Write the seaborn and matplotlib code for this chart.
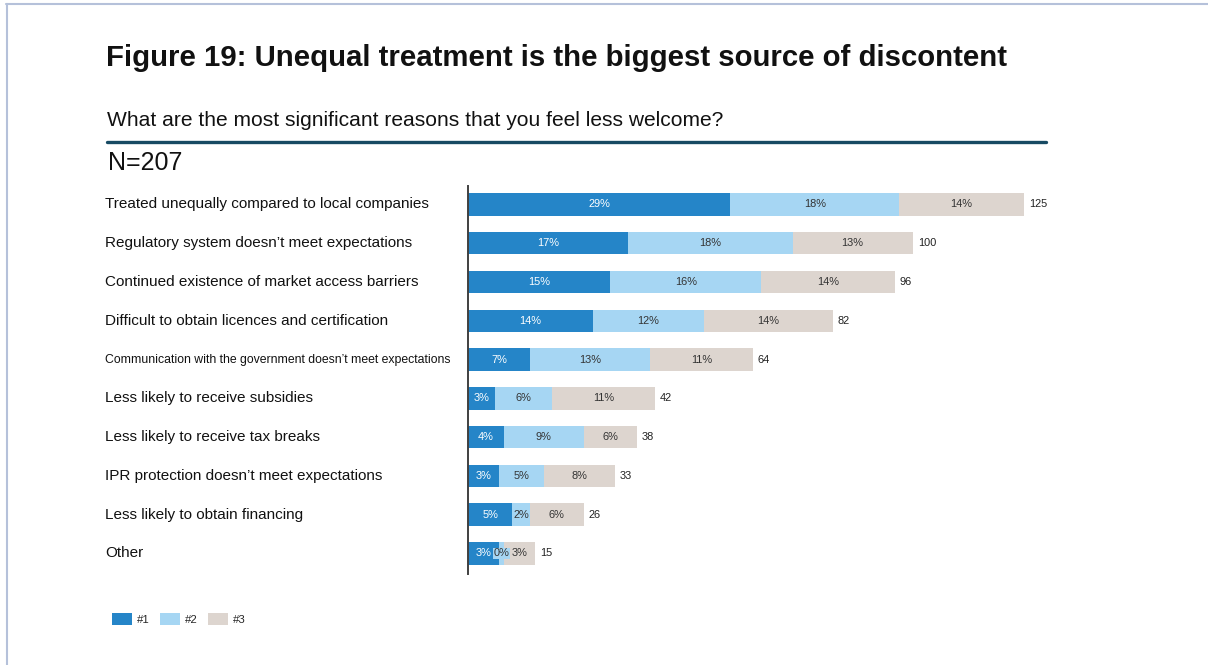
import matplotlib
matplotlib.use("Agg")
import matplotlib.pyplot as plt
import pandas as pd
import seaborn as sns
from matplotlib.patches import Patch
from matplotlib.lines import Line2D

sns.set_theme(style="white")
plt.rcParams['font.family'] = ['Liberation Sans', 'DejaVu Sans']

# Survey data: number of respondents ranking each reason #1, #2 and #3
N = 207
categories = [
    "Treated unequally compared to local companies",
    "Regulatory system doesn\u2019t meet expectations",
    "Continued existence of market access barriers",
    "Difficult to obtain licences and certification",
    "Communication with the government doesn\u2019t meet expectations",
    "Less likely to receive subsidies",
    "Less likely to receive tax breaks",
    "IPR protection doesn\u2019t meet expectations",
    "Less likely to obtain financing",
    "Other",
]
rank1 = [59, 36, 32, 28, 14, 6, 8, 7, 10, 7]
rank2 = [38, 37, 34, 25, 27, 13, 18, 10, 4, 1]
rank3 = [28, 27, 30, 29, 23, 23, 12, 16, 12, 7]
rank_names = ["#1", "#2", "#3"]
rank_colors = ["#2585C8", "#A6D6F3", "#DDD5CF"]
text_colors = ["white", "#333333", "#333333"]

df = pd.DataFrame({"category": categories, "r1": rank1, "r2": rank2, "r3": rank3})
df["upto2"] = df["r1"] + df["r2"]
df["total"] = df["upto2"] + df["r3"]

W, H = 1208, 665
fig = plt.figure(figsize=(W / 100, H / 100), dpi=100)
fig.patch.set_facecolor("white")

# axes: left edge at the vertical baseline, rows spaced evenly
ax_left, ax_right, ax_top, ax_bottom = 468, 1135, 186, 574
ax = fig.add_axes([ax_left / W, 1 - ax_bottom / H, (ax_right - ax_left) / W, (ax_bottom - ax_top) / H])
XMAX = 150.0

# stacked bars drawn as overlapping cumulative sums
for col, color in [("total", rank_colors[2]), ("upto2", rank_colors[1]), ("r1", rank_colors[0])]:
    sns.barplot(data=df, x=col, y="category", order=categories, color=color,
                saturation=1, width=0.58, errorbar=None, linewidth=0, ax=ax)

ax.set_xlim(0, XMAX)
ax.set_ylim(9.53, -0.475)
ax.set_xticks([])
ax.set_yticks([])
ax.set_xlabel("")
ax.set_ylabel("")
for side in ["top", "right", "bottom"]:
    ax.spines[side].set_visible(False)
ax.spines["left"].set_color("#404040")
ax.spines["left"].set_linewidth(1.4)
ax.patch.set_alpha(0)

px_per_unit = (ax_right - ax_left) / XMAX
label_x = (105 - ax_left) / (ax_right - ax_left)
ytrans = ax.get_yaxis_transform()

for i, cat in enumerate(categories):
    size = 8.85 if len(cat) > 50 else 11.0
    ax.text(label_x, i, cat, transform=ytrans, ha="left", va="center",
            fontsize=size, color="#111111")
    vals = [rank1[i], rank2[i], rank3[i]]
    left = 0
    for k, v in enumerate(vals):
        pct = int(100 * v / N + 0.5)
        kw = {}
        if v * px_per_unit < 16:
            kw["bbox"] = dict(boxstyle="square,pad=0.08", fc=rank_colors[k], ec="none")
        ax.text(left + v / 2, i, f"{pct}%", ha="center", va="center",
                fontsize=7.9, color=text_colors[k], **kw)
        left += v
    ax.text(left + 5 / px_per_unit, i, f"{left}", ha="left", va="center",
            fontsize=7.9, color="#222222")

# titles
fig.text(106 / W, 1 - 58 / H, "Figure 19: Unequal treatment is the biggest source of discontent",
         ha="left", va="center", fontsize=21.2, fontweight="bold", color="#111111")
fig.text(107 / W, 1 - 120.5 / H, "What are the most significant reasons that you feel less welcome?",
         ha="left", va="center", fontsize=15.1, color="#111111")
fig.add_artist(Line2D([107 / W, 1046 / W], [1 - 142 / H, 1 - 142 / H],
                      color="#174A63", linewidth=2.4, transform=fig.transFigure))
fig.text(108 / W, 1 - 163.5 / H, "N=207", ha="left", va="center", fontsize=18, color="#111111")

# legend
handles = [Patch(facecolor=c, edgecolor="none", label=n) for c, n in zip(rank_colors, rank_names)]
fig.legend(handles=handles, loc="center left", bbox_to_anchor=(103 / W, 1 - 619 / H),
           ncol=3, frameon=False, fontsize=8.2, handlelength=1.75, handleheight=1.3,
           handletextpad=0.4, columnspacing=0.95, borderpad=0.3)

# page border
border = "#B5C1DA"
fig.add_artist(Line2D([6 / W, 1], [1 - 4 / H, 1 - 4 / H], color=border, linewidth=1.5,
                      transform=fig.transFigure))
fig.add_artist(Line2D([7 / W, 7 / W], [0, 1 - 4 / H], color=border, linewidth=1.5,
                      transform=fig.transFigure))

fig.savefig("out.png", dpi=100, facecolor="white")
